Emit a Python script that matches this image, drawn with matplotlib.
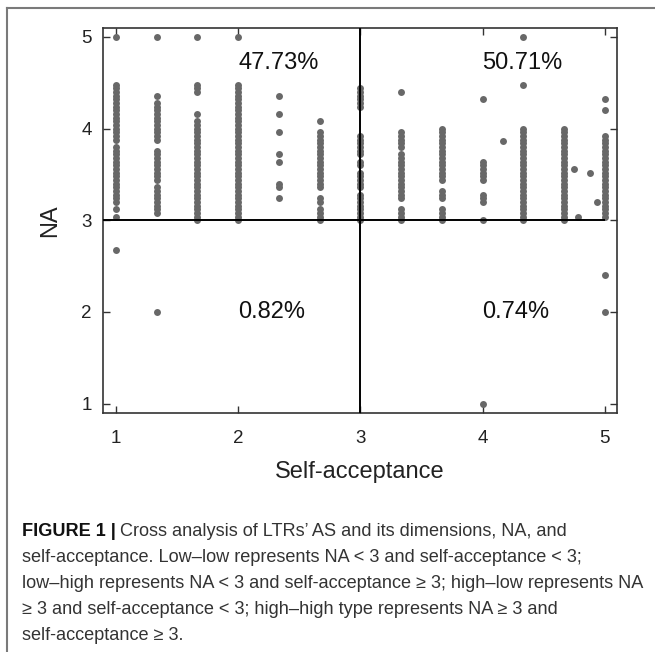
import matplotlib
matplotlib.use("Agg")
import matplotlib.pyplot as plt
from matplotlib.lines import Line2D

plt.rcParams['font.family'] = ['Liberation Sans', 'DejaVu Sans']

# === DATA ===
# self-acceptance levels of the dot columns
sa_levels = [1.0, 4/3, 5/3, 2.0, 7/3, 8/3, 3.0, 10/3, 11/3, 4.0, 13/3, 14/3, 5.0]

na_sa_100 = [5.00, 4.48, 4.44, 4.40, 4.36, 4.32, 4.28, 4.24, 4.20, 4.16, 4.12, 4.08, 4.04,
             4.00, 3.96, 3.92, 3.88, 3.80, 3.76, 3.72, 3.68, 3.64, 3.60, 3.56, 3.52, 3.48,
             3.44, 3.40, 3.36, 3.32, 3.28, 3.24, 3.20, 3.12, 3.04, 2.68]
na_sa_133 = [5.00, 4.36, 4.28, 4.24, 4.20, 4.16, 4.12, 4.08, 4.04, 4.00, 3.96, 3.92, 3.88,
             3.76, 3.72, 3.68, 3.64, 3.60, 3.56, 3.52, 3.48, 3.44, 3.36, 3.32, 3.28, 3.24,
             3.20, 3.16, 3.12, 3.08, 2.00]
na_sa_167 = [5.00, 4.48, 4.44, 4.40, 4.16, 4.08, 4.04, 4.00, 3.96, 3.92, 3.88, 3.84, 3.80,
             3.76, 3.72, 3.68, 3.64, 3.60, 3.56, 3.52, 3.48, 3.44, 3.40, 3.36, 3.32, 3.28,
             3.24, 3.20, 3.16, 3.12, 3.08, 3.04, 3.00]
na_sa_200 = [5.00, 4.48, 4.44, 4.40, 4.36, 4.32, 4.28, 4.24, 4.20, 4.16, 4.12, 4.08, 4.04,
             4.00, 3.96, 3.92, 3.88, 3.84, 3.80, 3.76, 3.72, 3.68, 3.64, 3.60, 3.56, 3.52,
             3.48, 3.44, 3.40, 3.36, 3.32, 3.28, 3.24, 3.20, 3.16, 3.12, 3.08, 3.04, 3.00]
na_sa_233 = [4.36, 4.16, 3.96, 3.72, 3.64, 3.40, 3.36, 3.24]
na_sa_267 = [4.08, 3.96, 3.92, 3.88, 3.84, 3.80, 3.76, 3.72, 3.68, 3.64, 3.60, 3.56, 3.52,
             3.48, 3.44, 3.40, 3.36, 3.24, 3.20, 3.12, 3.08, 3.04, 3.00]
na_sa_300 = [4.44, 4.40, 4.36, 4.32, 4.28, 4.24, 3.92, 3.88, 3.84, 3.80, 3.76, 3.72, 3.64,
             3.60, 3.52, 3.48, 3.44, 3.40, 3.36, 3.28, 3.24, 3.20, 3.16, 3.12, 3.08, 3.04, 3.00]
na_sa_333 = [4.40, 3.96, 3.92, 3.88, 3.84, 3.80, 3.72, 3.68, 3.64, 3.60, 3.56, 3.52, 3.48,
             3.44, 3.40, 3.36, 3.32, 3.28, 3.24, 3.12, 3.08, 3.04, 3.00]
na_sa_367 = [4.00, 3.96, 3.92, 3.88, 3.84, 3.80, 3.76, 3.72, 3.68, 3.64, 3.60, 3.56, 3.52,
             3.48, 3.44, 3.32, 3.28, 3.24, 3.12, 3.08, 3.04, 3.00]
na_sa_400 = [4.32, 3.64, 3.60, 3.56, 3.52, 3.48, 3.44, 3.28, 3.24, 3.20, 3.00, 1.00]
na_sa_433 = [5.00, 4.48, 4.00, 3.96, 3.92, 3.88, 3.84, 3.80, 3.76, 3.72, 3.68, 3.64, 3.60,
             3.56, 3.52, 3.48, 3.44, 3.40, 3.36, 3.32, 3.28, 3.24, 3.20, 3.16, 3.12, 3.08,
             3.04, 3.00]
na_sa_467 = [4.00, 3.96, 3.92, 3.88, 3.84, 3.80, 3.76, 3.72, 3.68, 3.64, 3.60, 3.56, 3.52,
             3.48, 3.44, 3.40, 3.36, 3.32, 3.28, 3.24, 3.20, 3.16, 3.12, 3.08, 3.04, 3.00]
na_sa_500 = [4.32, 4.20, 3.92, 3.88, 3.84, 3.80, 3.76, 3.72, 3.68, 3.64, 3.60, 3.56, 3.52,
             3.48, 3.44, 3.40, 3.36, 3.32, 3.28, 3.24, 3.20, 3.16, 3.12, 3.08, 3.04, 2.40, 2.00]
na_columns = [na_sa_100, na_sa_133, na_sa_167, na_sa_200, na_sa_233, na_sa_267, na_sa_300,
              na_sa_333, na_sa_367, na_sa_400, na_sa_433, na_sa_467, na_sa_500]

# a few respondents off the 1/3 grid
extra_sa = [4.17, 4.75, 4.88, 4.94, 4.78]
extra_na = [3.86, 3.56, 3.52, 3.20, 3.04]

# quadrant shares
quad_labels = ["47.73%", "50.71%", "0.82%", "0.74%"]
quad_x = [2.0, 4.0, 2.0, 4.0]
quad_y = [4.72, 4.72, 2.0, 2.0]

ticks = [1, 2, 3, 4, 5]

caption_bold = "FIGURE 1 |"
caption_lines = [
    "Cross analysis of LTRs\u2019 AS and its dimensions, NA, and",
    "self-acceptance. Low\u2013low represents NA < 3 and self-acceptance < 3;",
    "low\u2013high represents NA < 3 and self-acceptance \u2265 3; high\u2013low represents NA",
    "\u2265 3 and self-acceptance < 3; high\u2013high type represents NA \u2265 3 and",
    "self-acceptance \u2265 3.",
]

# === FIGURE ===
W, H = 655, 652
fig = plt.figure(figsize=(W / 100, H / 100), dpi=100)
ax = fig.add_axes([103 / W, 1 - 413 / H, 514 / W, 385 / H])

dot_color = "#686868"
for x, ys in zip(sa_levels, na_columns):
    ax.plot([x] * len(ys), ys, "o", ms=5, color=dot_color, mec="none", zorder=2)
ax.plot(extra_sa, extra_na, "o", ms=5, color=dot_color, mec="none", zorder=2)

ax.set_xlim(0.895, 5.1)
ax.set_ylim(0.897, 5.098)
ax.hlines(3, 0.895, 5, color="black", lw=1.4, zorder=3)
ax.axvline(3, color="black", lw=1.4, zorder=3)

for s, x, y in zip(quad_labels, quad_x, quad_y):
    ax.text(x, y, s, ha="left", va="center", fontsize=17, color="#111")

ax.set_xticks(ticks)
ax.set_yticks(ticks)
ax.tick_params(direction="in", length=5, width=1, top=True, right=True,
               labelsize=13.5, colors="#333", labelcolor="#222")
ax.tick_params(axis="x", pad=12)
ax.tick_params(axis="y", pad=8)
for sp in ax.spines.values():
    sp.set_color("#333")
    sp.set_linewidth(1.2)

ax.set_xlabel("Self-acceptance", fontsize=17, color="#222")
ax.set_ylabel("NA", fontsize=17, color="#222")
ax.xaxis.set_label_coords(0.5, (413 - 472) / 385)
ax.xaxis.label.set_va("center")
ax.yaxis.set_label_coords((50 - 103) / 514, 0.5)
ax.yaxis.label.set_va("center")

# caption frame
frame = "#7a7a7a"
fig.add_artist(Line2D([7 / W, 7 / W], [0, 1 - 8 / H], color=frame, lw=1.5))
fig.add_artist(Line2D([7 / W, 1], [1 - 8 / H, 1 - 8 / H], color=frame, lw=1.5))

# caption text, sized so the longest line fits the box
cap_font = ["Liberation Sans Narrow", "Liberation Sans", "DejaVu Sans"]
r = fig.canvas.get_renderer()
probe = fig.text(0, 0, caption_lines[2], fontsize=13, family=cap_font)
cap_fs = 13 * 622 / probe.get_window_extent(r).width
probe.remove()

x0 = 22
for i, line in enumerate(caption_lines):
    yc = 1 - (532 + 26 * i) / H
    if i == 0:
        tb = fig.text(x0 / W, yc, caption_bold, fontsize=cap_fs, family=cap_font,
                      weight="bold", va="center", color="#111")
        bw = tb.get_window_extent(r).width
        fig.text((x0 + bw + 0.3 * cap_fs) / W, yc, line, fontsize=cap_fs,
                 family=cap_font, va="center", color="#333")
    else:
        fig.text(x0 / W, yc, line, fontsize=cap_fs, family=cap_font,
                 va="center", color="#333")

fig.savefig("out.png", dpi=100)
